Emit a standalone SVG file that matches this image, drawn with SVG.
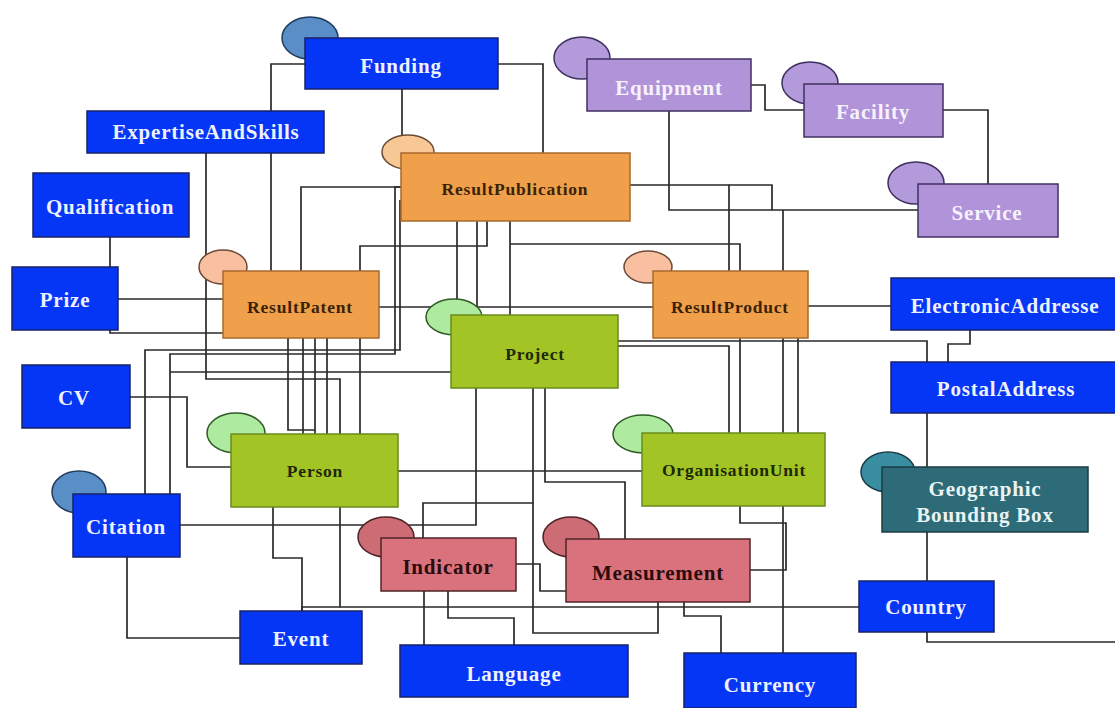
<svg xmlns="http://www.w3.org/2000/svg" width="1115" height="708" viewBox="0 0 1115 708">
<style>
.bg{fill:#ffffff}
.cn path{fill:none;stroke:#2a2a2a;stroke-width:1.7}
rect{stroke-width:1.5}
ellipse{stroke-width:1.5}
.blue rect{fill:#0636f5;stroke:#17226a}
.blue ellipse{fill:#5a8ec6;stroke:#1f3c5c}
.blue text{fill:#eef1ff}
.org rect{fill:#f0a04a;stroke:#a8692c}
.org ellipse{fill:#f8c0a0;stroke:#6b4a36}
.org.pub ellipse{fill:#f7c895}
.org text{fill:#3a2206}
.grn rect{fill:#a2c424;stroke:#6a8a1c}
.grn ellipse{fill:#aeeba1;stroke:#2f5a26}
.grn text{fill:#1e2805}
.pur rect{fill:#b193d9;stroke:#3f3060}
.pur ellipse{fill:#b39ada;stroke:#3f3060}
.pur text{fill:#f6f2fc}
.red rect{fill:#d9727c;stroke:#4e2428}
.red ellipse{fill:#cd6c74;stroke:#4e2428}
.red text{fill:#2a0c0e}
.teal rect{fill:#2c6b77;stroke:#1a3c44}
.teal ellipse{fill:#3a8ea2;stroke:#1a3c44}
.teal text{fill:#eaf2f4}
text{font-family:"Liberation Serif","Times New Roman",serif;font-weight:bold;text-anchor:middle;dominant-baseline:central}
.L{font-size:21px;letter-spacing:0.8px}
.S{font-size:17.5px;letter-spacing:0.8px}
</style>
<rect class="bg" x="0" y="0" width="1115" height="708"/>
<g id="connectors" class="cn">
<path d="M305,64 H271 V271"/>
<path d="M498,64 H543 V153"/>
<path d="M402,89 V140"/>
<path d="M206,153 V379 H340 V434"/>
<path d="M110,237 V267"/>
<path d="M118,299 H223"/>
<path d="M110,330 V333 H223"/>
<path d="M130,397 H187 V467 H231"/>
<path d="M401,187 H301 V271"/>
<path d="M401,187 H395 V354 H170 V494"/>
<path d="M400,200 V350 H145 V494"/>
<path d="M451,372 H170"/>
<path d="M487,221 V246 H360 V434"/>
<path d="M457,221 V315"/>
<path d="M477,221 V315"/>
<path d="M510,221 V315"/>
<path d="M510,244 H740 V271"/>
<path d="M630,185 H729 V271"/>
<path d="M729,185 H772 V210 H918"/>
<path d="M669,111 V210 H772"/>
<path d="M783,271 V210"/>
<path d="M751,85 H765 V110 H804"/>
<path d="M943,110 H988 V184"/>
<path d="M379,307 H653"/>
<path d="M808,306 H891"/>
<path d="M970,330 V344 H948 V362"/>
<path d="M618,341 H927 V362"/>
<path d="M927,413 V467"/>
<path d="M927,532 V581"/>
<path d="M927,632 V642 H1115"/>
<path d="M618,346 H729 V433"/>
<path d="M740,338 V433"/>
<path d="M798,338 V433"/>
<path d="M783,338 V653"/>
<path d="M288,338 V430 H315"/>
<path d="M303,338 V434"/>
<path d="M315,338 V434"/>
<path d="M327,338 V434"/>
<path d="M398,471 H642"/>
<path d="M273,507 V558 H302 V611"/>
<path d="M340,507 V607 H859"/>
<path d="M302,611 V607 H340"/>
<path d="M127,557 V638 H240"/>
<path d="M476,388 V525 H180"/>
<path d="M533,388 V503 H423 V538"/>
<path d="M533,503 V633 H658 V602"/>
<path d="M545,388 V482 H625 V539"/>
<path d="M516,564 H540 V591 H566"/>
<path d="M424,591 V645"/>
<path d="M448,591 V618 H514 V645"/>
<path d="M684,602 V616 H721 V653"/>
<path d="M750,570 H786 V523 H740 V506"/>
</g>
<g id="funding" class="blue">
<ellipse cx="310" cy="38" rx="28" ry="21"/>
<rect x="305" y="38" width="193" height="51"/>
<text class="L" x="401" y="66">Funding</text>
</g>
<g id="expertise" class="blue">
<rect x="87" y="111" width="237" height="42"/>
<text class="L" x="206" y="132">ExpertiseAndSkills</text>
</g>
<g id="qualification" class="blue">
<rect x="33" y="173" width="156" height="64"/>
<text class="L" x="110" y="207">Qualification</text>
</g>
<g id="prize" class="blue">
<rect x="12" y="267" width="106" height="63"/>
<text class="L" x="65" y="300">Prize</text>
</g>
<g id="cv" class="blue">
<rect x="22" y="365" width="108" height="63"/>
<text class="L" x="74" y="398">CV</text>
</g>
<g id="citation" class="blue">
<ellipse cx="79" cy="492" rx="27" ry="21"/>
<rect x="73" y="494" width="107" height="63"/>
<text class="L" x="126" y="527">Citation</text>
</g>
<g id="event" class="blue">
<rect x="240" y="611" width="122" height="53"/>
<text class="L" x="301" y="639">Event</text>
</g>
<g id="language" class="blue">
<rect x="400" y="645" width="228" height="52"/>
<text class="L" x="514" y="674">Language</text>
</g>
<g id="currency" class="blue">
<rect x="684" y="653" width="172" height="55"/>
<text class="L" x="770" y="685">Currency</text>
</g>
<g id="country" class="blue">
<rect x="859" y="581" width="135" height="51"/>
<text class="L" x="926" y="607">Country</text>
</g>
<g id="electronicaddresse" class="blue">
<rect x="891" y="278" width="230" height="52"/>
<text class="L" x="1005" y="306">ElectronicAddresse</text>
</g>
<g id="postaladdress" class="blue">
<rect x="891" y="362" width="230" height="51"/>
<text class="L" x="1006" y="389">PostalAddress</text>
</g>
<g id="equipment" class="pur">
<ellipse cx="582" cy="58" rx="28" ry="21"/>
<rect x="587" y="59" width="164" height="52"/>
<text class="L" x="669" y="88">Equipment</text>
</g>
<g id="facility" class="pur">
<ellipse cx="810" cy="83" rx="28" ry="21"/>
<rect x="804" y="84" width="139" height="53"/>
<text class="L" x="873" y="112">Facility</text>
</g>
<g id="service" class="pur">
<ellipse cx="916" cy="183" rx="28" ry="21"/>
<rect x="918" y="184" width="140" height="53"/>
<text class="L" x="987" y="213">Service</text>
</g>
<g id="resultpublication" class="org pub">
<ellipse cx="408" cy="152" rx="26" ry="17"/>
<rect x="401" y="153" width="229" height="68"/>
<text class="S" x="515" y="189">ResultPublication</text>
</g>
<g id="resultpatent" class="org">
<ellipse cx="223" cy="267" rx="24" ry="17"/>
<rect x="223" y="271" width="156" height="67"/>
<text class="S" x="300" y="307">ResultPatent</text>
</g>
<g id="resultproduct" class="org">
<ellipse cx="648" cy="267" rx="24" ry="16"/>
<rect x="653" y="271" width="155" height="67"/>
<text class="S" x="730" y="307">ResultProduct</text>
</g>
<g id="project" class="grn">
<ellipse cx="454" cy="317" rx="28" ry="18"/>
<rect x="451" y="315" width="167" height="73"/>
<text class="S" x="535" y="354">Project</text>
</g>
<g id="person" class="grn">
<ellipse cx="236" cy="433" rx="29" ry="20"/>
<rect x="231" y="434" width="167" height="73"/>
<text class="S" x="315" y="471">Person</text>
</g>
<g id="organisationunit" class="grn">
<ellipse cx="643" cy="434" rx="30" ry="19"/>
<rect x="642" y="433" width="183" height="73"/>
<text class="S" x="734" y="470">OrganisationUnit</text>
</g>
<g id="indicator" class="red">
<ellipse cx="386" cy="537" rx="28" ry="20"/>
<rect x="381" y="538" width="135" height="53"/>
<text class="L" x="448" y="567">Indicator</text>
</g>
<g id="measurement" class="red">
<ellipse cx="571" cy="537" rx="28" ry="20"/>
<rect x="566" y="539" width="184" height="63"/>
<text class="L" x="658" y="573">Measurement</text>
</g>
<g id="geographicboundingbox" class="teal">
<ellipse cx="888" cy="472" rx="27" ry="20"/>
<rect x="882" y="467" width="206" height="65"/>
<text class="L" x="985" y="489">Geographic</text>
<text class="L" x="985" y="515">Bounding Box</text>
</g>
</svg>
